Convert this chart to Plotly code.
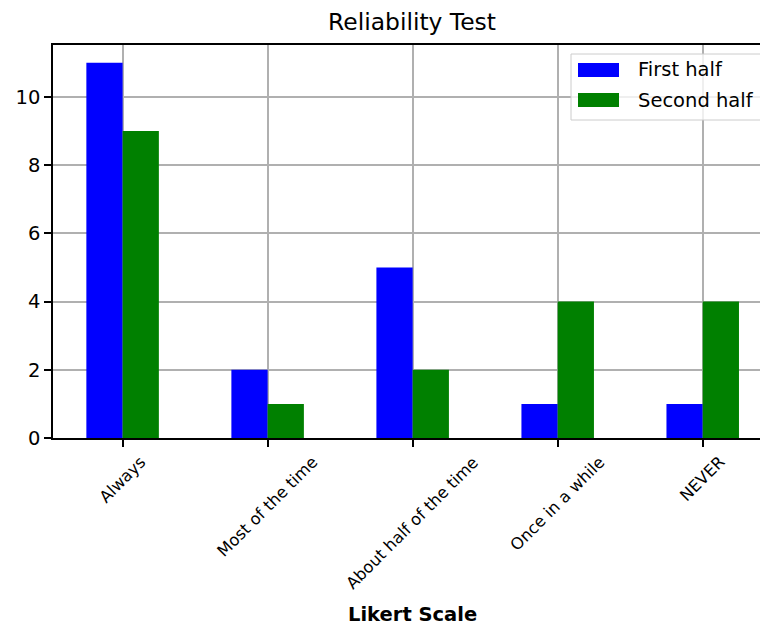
import plotly.graph_objects as go

categories = ["Always", "Most of the time", "About half of the time", "Once in a while", "NEVER"]
first_half = [11, 2, 5, 1, 1]
second_half = [9, 1, 2, 4, 4]
series_names = ["First half", "Second half"]
series_colors = ["#0000ff", "#008000"]
y_ticks = [0, 2, 4, 6, 8, 10]

W, H = 760, 626
L, T = 53, 45
BOTTOM = 438
R, B = 0, H - BOTTOM
pw, ph = W - L - R, H - T - B

def px_x(p):
    return (p - L) / pw

def px_y(p):
    return (BOTTOM - p) / ph

FONT = "DejaVu Sans"

fig = go.Figure()
for name, vals, col in zip(series_names, [first_half, second_half], series_colors):
    fig.add_trace(go.Bar(x=categories, y=vals, name=name, marker=dict(color=col, line=dict(width=0)),
                         showlegend=False))

fig.update_layout(
    width=W, height=H,
    margin=dict(l=L, r=R, t=T, b=B, pad=0),
    paper_bgcolor="white", plot_bgcolor="white",
    barmode="group", bargap=0.5, bargroupgap=0,
    font=dict(family=FONT, color="black"),
    title=dict(text="Reliability Test", x=412 / W, xref="container", xanchor="center",
               y=1 - 22 / H, yref="container", yanchor="middle",
               font=dict(family=FONT, size=23.4, color="black")),
    xaxis=dict(type="category", range=[-0.48, 4.395], showticklabels=False,
               ticks="outside", ticklen=7, tickwidth=1.5, tickcolor="black",
               showline=True, linecolor="black", linewidth=1.5, mirror=True,
               showgrid=True, gridcolor="#b0b0b0", gridwidth=1.5, layer="above traces"),
    yaxis=dict(range=[0, 11.52], tickvals=y_ticks, ticks="outside", ticklen=7, tickwidth=1.5,
               tickcolor="black", showline=True, linecolor="black", linewidth=1.5,
               showgrid=True, gridcolor="#b0b0b0", gridwidth=1.5, zeroline=False,
               tickfont=dict(family=FONT, size=19.5, color="black"), layer="above traces"),
)

annotations = []
for c in categories:
    annotations.append(dict(x=c, xref="x", y=0, yref="paper", text=c, textangle=-45,
                            xanchor="center", yanchor="top", yshift=-12, showarrow=False,
                            font=dict(family=FONT, size=16.3, color="black")))
annotations.append(dict(x=px_x(412), xref="paper", y=px_y(614), yref="paper",
                        text="<b>Likert Scale</b>", showarrow=False, xanchor="center",
                        yanchor="middle", font=dict(family=FONT, size=19.5, color="black")))

shapes = [dict(type="rect", xref="paper", yref="paper", x0=px_x(571), x1=px_x(772),
               y0=px_y(120), y1=px_y(54), line=dict(color="#cccccc", width=1),
               fillcolor="rgba(255,255,255,0.8)", layer="above")]
patch_y = [70, 100]
for name, col, yc in zip(series_names, series_colors, patch_y):
    shapes.append(dict(type="rect", xref="paper", yref="paper", x0=px_x(578), x1=px_x(619),
                       y0=px_y(yc + 7), y1=px_y(yc - 7), line=dict(width=0), fillcolor=col,
                       layer="above"))
    annotations.append(dict(x=px_x(636), xref="paper", y=px_y(yc), yref="paper", text=name,
                            showarrow=False, xanchor="left", yanchor="middle",
                            font=dict(family=FONT, size=19.5, color="black")))

fig.update_layout(annotations=annotations, shapes=shapes)
fig.write_html("out.html", config={"displayModeBar": False},
               post_script="document.body.style.margin='0';document.body.style.overflow='hidden';")
